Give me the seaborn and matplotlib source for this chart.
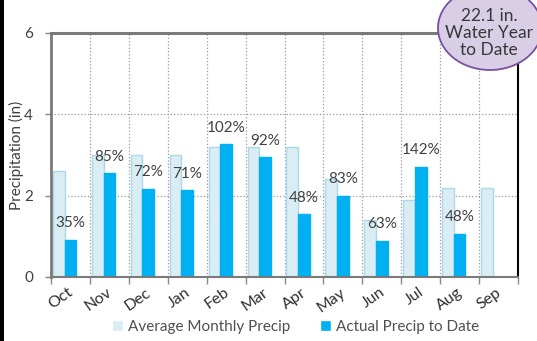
import numpy as np
import pandas as pd
import matplotlib
matplotlib.use("Agg")
import matplotlib.pyplot as plt
import seaborn as sns
from matplotlib.patches import Ellipse, Rectangle

months = ["Oct", "Nov", "Dec", "Jan", "Feb", "Mar", "Apr", "May", "Jun", "Jul", "Aug", "Sep"]
average = [2.6, 3.0, 3.0, 3.0, 3.2, 3.2, 3.2, 2.4, 1.4, 1.9, 2.2, 2.2]
actual = [0.91, 2.55, 2.16, 2.13, 3.26, 2.94, 1.54, 1.99, 0.88, 2.70, 1.06, np.nan]
pct_labels = ["35%", "85%", "72%", "71%", "102%", "92%", "48%", "83%", "63%", "142%", "48%", ""]
y_ticks = [0, 2, 4, 6]
series_names = ["Average Monthly Precip", "Actual Precip to Date"]
bubble_text = "22.1 in.\nWater Year\nto Date"

df = pd.DataFrame({
    "month": months * 2,
    "value": average + actual,
    "series": [series_names[0]] * 12 + [series_names[1]] * 12,
})

sns.set_theme(style="white")
plt.rcParams["font.family"] = ["Lato", "DejaVu Sans"]

fig = plt.figure(figsize=(5.37, 3.41), dpi=100)
ax = fig.add_axes([51 / 537, 1 - 277 / 341, 467 / 537, 244 / 341])

light = "#daedf4"
light_edge = "#acd9e8"
dark = "#00b0f0"

sns.barplot(data=df, x="month", y="value", hue="series", order=months,
            hue_order=series_names, palette=[light, dark], width=0.6,
            dodge=True, ax=ax, saturation=1, legend=True)

for cont, ec in zip(ax.containers, [light_edge, dark]):
    for p in cont:
        p.set_edgecolor(ec)
        p.set_linewidth(1.0)

ax.set_xlim(-0.35, 11.65)
ax.set_ylim(0, 6)
ax.set_xlabel("")
ax.set_ylabel("Precipitation (in)", fontsize=11, color="#404040", labelpad=0)

ax.set_xticks(np.arange(12) + 0.29)
ax.set_xticklabels(months, rotation=35, ha="right", fontsize=11.5, color="#303030")
ax.tick_params(axis="x", which="major", length=0, pad=6)
ax.set_xticks(np.arange(13) - 0.35, minor=True)
ax.tick_params(axis="x", which="minor", length=5, width=1, color="#888888",
               direction="out", bottom=True)

ax.set_yticks(y_ticks)
ax.set_yticklabels([str(v) for v in y_ticks], fontsize=11, color="#404040")
ax.tick_params(axis="y", length=4, width=1, color="#888888", left=True, pad=9)

ax.grid(False)
ax.yaxis.grid(True, linestyle=":", color="#999999", linewidth=0.9)
ax.xaxis.grid(True, which="minor", linestyle=":", color="#999999", linewidth=0.9)
ax.set_axisbelow(True)

for side in ["left", "top", "bottom"]:
    ax.spines[side].set_color("#7a7a7a")
ax.spines["left"].set_linewidth(2)
ax.spines["top"].set_linewidth(2.2)
ax.spines["bottom"].set_linewidth(1.5)
ax.spines["right"].set_color("black")
ax.spines["right"].set_linewidth(1.5)

for i, (v, lab) in enumerate(zip(actual, pct_labels)):
    if lab and not np.isnan(v):
        ax.annotate(lab, xy=(i + 0.15, v), xytext=(0, 7), textcoords="offset points",
                    ha="center", va="bottom", fontsize=11, color="#404040")

handles, labels = ax.get_legend_handles_labels()
ax.legend(handles, labels, loc="center", bbox_to_anchor=(0.5 + 11 / 467, (14 - 64) / 244),
          ncol=2, frameon=False, fontsize=11, handlelength=0.7, handleheight=0.7,
          handletextpad=0.3, columnspacing=2.0, labelcolor="#505050",
          bbox_transform=ax.transAxes)

ell = Ellipse((490 / 537, 1 - 28 / 341), 104 / 537, 84 / 341, transform=fig.transFigure,
              facecolor="#d8cfe6", edgecolor="#7a4fa3", linewidth=1.3, zorder=10)
fig.add_artist(ell)
fig.text(489 / 537, 1 - 33 / 341, bubble_text, ha="center", va="center",
         fontsize=12.5, color="#383838", linespacing=1.1, zorder=11)

fig.add_artist(Rectangle((0, 0), 4 / 537, 1, transform=fig.transFigure,
                         facecolor="black", edgecolor="none"))

fig.savefig("out.png", dpi=100)
